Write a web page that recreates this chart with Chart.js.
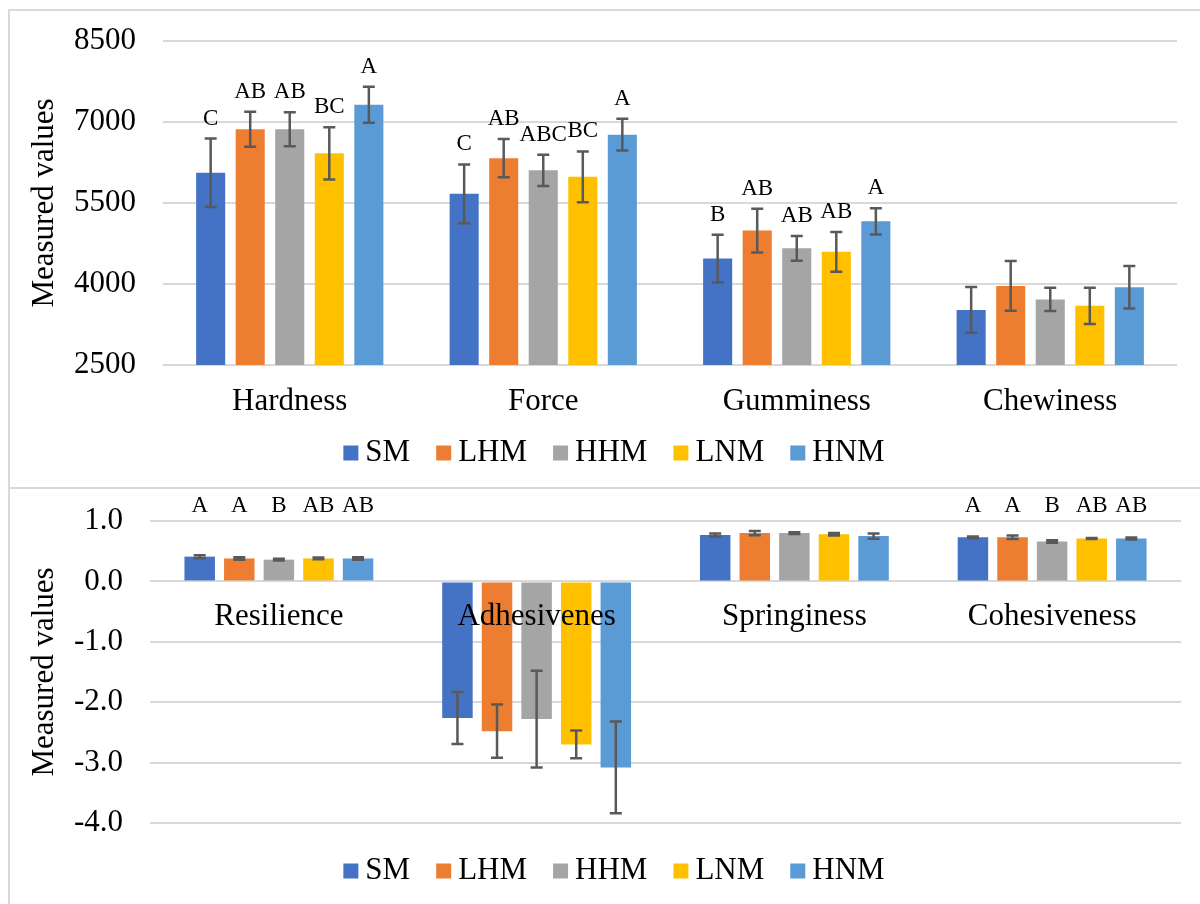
<!DOCTYPE html>
<html>
<head>
<meta charset="utf-8">
<script src="https://cdn.jsdelivr.net/npm/chart.js@4.4.1/dist/chart.umd.min.js"></script>
<style>
  body { margin: 0; background: #fff; width: 1200px; height: 904px; overflow: hidden; position: relative; }
  .rule { position: absolute; background: #d9d9d9; }
  canvas { position: absolute; left: 0; }
</style>
</head>
<body>
<div class="rule" style="left:8px; top:9px; width:1192px; height:2px"></div>
<div class="rule" style="left:8px; top:487px; width:1192px; height:2px"></div>
<div class="rule" style="left:8px; top:9px; width:2px; height:895px"></div>
<canvas id="topChart" width="1200" height="487" style="top:0"></canvas>
<canvas id="bottomChart" width="1200" height="415" style="top:489px"></canvas>
<script>
const groups = ["SM", "LHM", "HHM", "LNM", "HNM"];
const groupColors = ["#4472c4", "#ed7d31", "#a5a5a5", "#ffc000", "#5b9bd5"];

// upper panel
const topCategories = ["Hardness", "Force", "Gumminess", "Chewiness"];
const topTicks = [2500, 4000, 5500, 7000, 8500];
const topSM  = [6060, 5670, 4470, 3520];
const topLHM = [6865, 6330, 4990, 3965];
const topHHM = [6865, 6105, 4660, 3715];
const topLNM = [6420, 5985, 4595, 3595];
const topHNM = [7320, 6765, 5160, 3940];
const topErrSM  = [635, 545, 440, 425];
const topErrLHM = [325, 355, 405, 460];
const topErrHHM = [315, 290, 230, 215];
const topErrLNM = [485, 470, 370, 335];
const topErrHNM = [335, 295, 245, 395];
const hardnessTags  = ["C", "AB", "AB", "BC", "A"];
const forceTags     = ["C", "AB", "ABC", "BC", "A"];
const gumminessTags = ["B", "AB", "AB", "AB", "A"];
const chewinessTags = ["", "", "", "", ""];

// lower panel
const bottomCategories = ["Resilience", "Adhesivenes", "Springiness", "Cohesiveness"];
const bottomTicks = [-4, -3, -2, -1, 0, 1];
const bottomSM  = [0.41, -2.26, 0.77, 0.73];
const bottomLHM = [0.38, -2.48, 0.80, 0.73];
const bottomHHM = [0.36, -2.28, 0.80, 0.66];
const bottomLNM = [0.38, -2.70, 0.78, 0.71];
const bottomHNM = [0.38, -3.08, 0.75, 0.71];
const bottomErrSM  = [0.025, 0.43, 0.025, 0.015];
const bottomErrLHM = [0.02, 0.44, 0.035, 0.03];
const bottomErrHHM = [0.015, 0.80, 0.015, 0.02];
const bottomErrLNM = [0.015, 0.23, 0.02, 0.01];
const bottomErrHNM = [0.02, 0.76, 0.045, 0.015];
const resilienceTags   = ["A", "A", "B", "AB", "AB"];
const adhesivenesTags  = ["", "", "", "", ""];
const springinessTags  = ["", "", "", "", ""];
const cohesivenessTags = ["A", "A", "B", "AB", "AB"];

const serif = "'Liberation Serif', 'Times New Roman', serif";
Chart.defaults.font.family = serif;
Chart.defaults.color = "#000";

function makeDatasets(values, errors, tags, catPct, barPct) {
    return groups.map((name, i) => ({
        label: name,
        data: values[i],
        errors: errors[i],
        tags: tags.map(row => row[i]),
        backgroundColor: groupColors[i],
        borderWidth: 0,
        categoryPercentage: catPct,
        barPercentage: barPct
    }));
}

// whiskers for +/- sd
const errorBars = {
    id: "errorBars",
    afterDatasetsDraw(chart) {
        const ctx = chart.ctx;
        const y = chart.scales.y;
        ctx.save();
        ctx.strokeStyle = "#595959";
        ctx.lineWidth = 2.5;
        chart.data.datasets.forEach((ds, i) => {
            chart.getDatasetMeta(i).data.forEach((bar, j) => {
                const hi = y.getPixelForValue(ds.data[j] + ds.errors[j]);
                const lo = y.getPixelForValue(ds.data[j] - ds.errors[j]);
                ctx.beginPath();
                ctx.moveTo(bar.x, hi); ctx.lineTo(bar.x, lo);
                ctx.moveTo(bar.x - 6, hi); ctx.lineTo(bar.x + 6, hi);
                ctx.moveTo(bar.x - 6, lo); ctx.lineTo(bar.x + 6, lo);
                ctx.stroke();
            });
        });
        ctx.restore();
    }
};

// significance letters
const groupTags = {
    id: "groupTags",
    afterDatasetsDraw(chart, args, opts) {
        const ctx = chart.ctx;
        const y = chart.scales.y;
        ctx.save();
        ctx.font = "23px " + serif;
        ctx.fillStyle = "#000";
        ctx.textAlign = "center";
        ctx.textBaseline = "middle";
        chart.data.datasets.forEach((ds, i) => {
            chart.getDatasetMeta(i).data.forEach((bar, j) => {
                const text = ds.tags[j];
                if (!text) return;
                const ty = opts.row
                    ? chart.chartArea.top - opts.lift
                    : y.getPixelForValue(ds.data[j] + ds.errors[j]) - opts.lift;
                ctx.fillText(text, bar.x, ty);
            });
        });
        ctx.restore();
    }
};

// excel-ish legend row
const boxLegend = {
    id: "boxLegend",
    afterDraw(chart, args, opts) {
        const ctx = chart.ctx;
        ctx.save();
        ctx.font = "31px " + serif;
        ctx.textAlign = "left";
        ctx.textBaseline = "middle";
        const box = 15, gap = 7, space = 26;
        const items = chart.data.datasets.map(ds => ({
            text: ds.label, color: ds.backgroundColor, w: ctx.measureText(ds.label).width
        }));
        const total = items.reduce((s, it) => s + box + gap + it.w, 0) + space * (items.length - 1);
        let x = opts.centerX - total / 2;
        items.forEach(it => {
            ctx.fillStyle = it.color;
            ctx.fillRect(x, opts.y - box / 2, box, box);
            ctx.fillStyle = "#000";
            ctx.fillText(it.text, x + box + gap, opts.y);
            x += box + gap + it.w + space;
        });
        ctx.restore();
    }
};

function yTitle() {
    return { display: true, text: "Measured values", font: { size: 31 }, padding: { top: 26, bottom: 0 } };
}

// fixed y-axis band, no extra vertical padding from tick labels
function fixYAxis(width) {
    return s => {
        s.width = width;
        s.paddingTop = 0;
        s.paddingBottom = 0;
    };
}

new Chart(document.getElementById("topChart"), {
    type: "bar",
    data: {
        labels: topCategories,
        datasets: makeDatasets(
            [topSM, topLHM, topHHM, topLNM, topHNM],
            [topErrSM, topErrLHM, topErrHHM, topErrLNM, topErrHNM],
            [hardnessTags, forceTags, gumminessTags, chewinessTags],
            0.78, 0.735)
    },
    options: {
        responsive: false,
        animation: false,
        layout: { padding: { top: 41, right: 23, bottom: 67, left: 0 } },
        plugins: {
            legend: { display: false },
            tooltip: { enabled: false },
            groupTags: { row: false, lift: 20 },
            boxLegend: { centerX: 614, y: 453 }
        },
        scales: {
            x: {
                grid: { display: false, drawTicks: false },
                border: { display: false },
                ticks: { font: { size: 31 }, padding: 18 },
                afterFit: s => { s.height = 55; }
            },
            y: {
                min: topTicks[0],
                max: topTicks[topTicks.length - 1],
                ticks: {
                    stepSize: topTicks[1] - topTicks[0],
                    font: { size: 31 },
                    padding: 27,
                    callback: v => String(v)
                },
                grid: { color: "#d9d9d9", lineWidth: 2, drawTicks: false },
                border: { display: false },
                title: yTitle(),
                afterFit: fixYAxis(163)
            }
        }
    },
    plugins: [errorBars, groupTags, boxLegend]
});

new Chart(document.getElementById("bottomChart"), {
    type: "bar",
    data: {
        labels: bottomCategories,
        datasets: makeDatasets(
            [bottomSM, bottomLHM, bottomHHM, bottomLNM, bottomHNM],
            [bottomErrSM, bottomErrLHM, bottomErrHHM, bottomErrLNM, bottomErrHNM],
            [resilienceTags, adhesivenesTags, springinessTags, cohesivenessTags],
            0.768, 0.77)
    },
    options: {
        responsive: false,
        animation: false,
        layout: { padding: { top: 32, right: 19, bottom: 81, left: 0 } },
        plugins: {
            legend: { display: false },
            tooltip: { enabled: false },
            groupTags: { row: true, lift: 15 },
            boxLegend: { centerX: 614, y: 382 }
        },
        scales: {
            x: {
                position: { y: 0 },
                grid: { display: false, drawTicks: false },
                border: { display: false },
                // labels sit on top of the negative bars
                ticks: { font: { size: 31 }, padding: 17, z: 1 }
            },
            y: {
                min: bottomTicks[0],
                max: bottomTicks[bottomTicks.length - 1],
                ticks: {
                    stepSize: bottomTicks[1] - bottomTicks[0],
                    font: { size: 31 },
                    padding: 27,
                    callback: v => v.toFixed(1)
                },
                grid: { color: "#d9d9d9", lineWidth: 2, drawTicks: false },
                border: { display: false },
                title: yTitle(),
                afterFit: fixYAxis(150)
            }
        }
    },
    plugins: [errorBars, groupTags, boxLegend]
});
</script>
</body>
</html>
